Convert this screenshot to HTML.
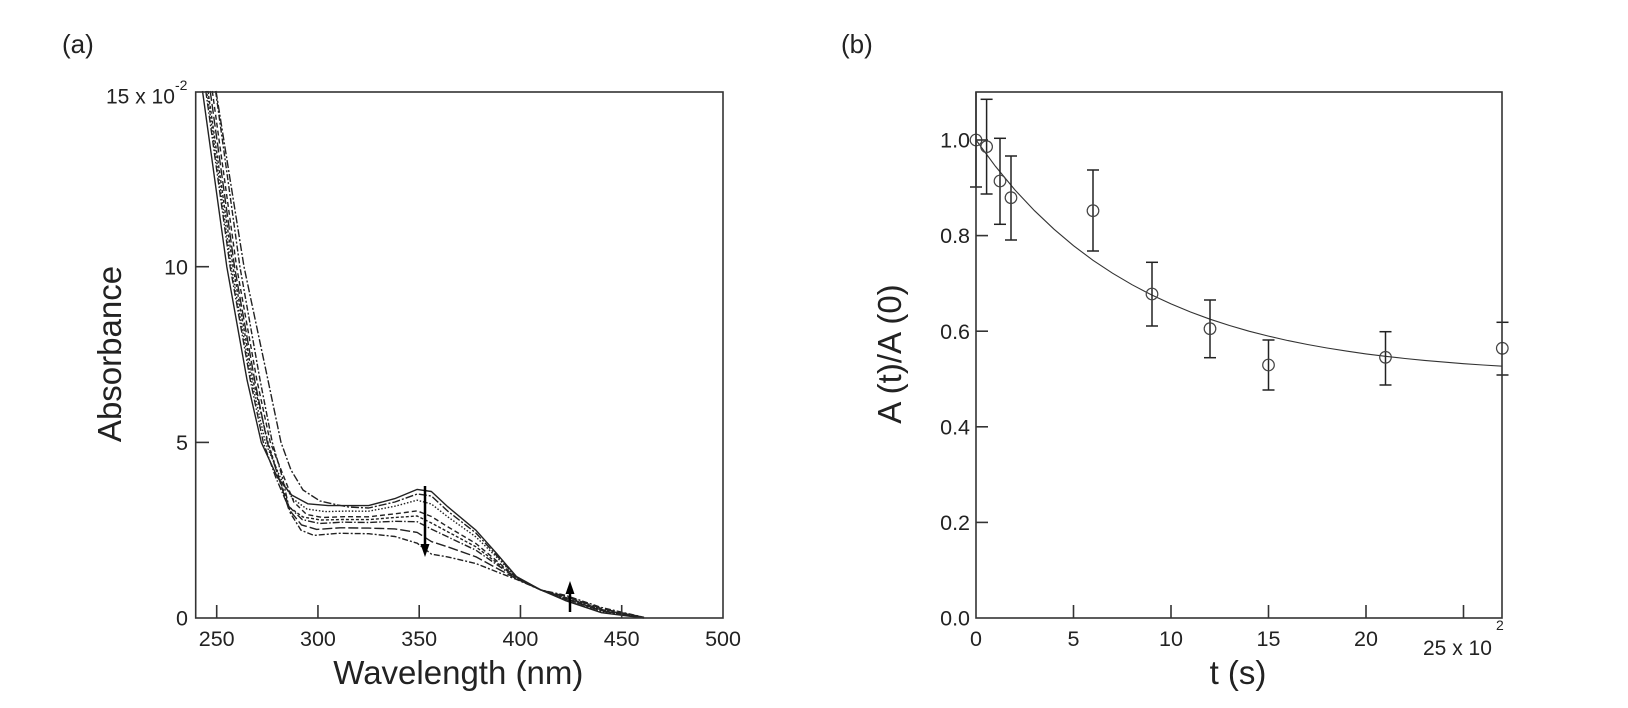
<!DOCTYPE html>
<html>
<head>
<meta charset="utf-8">
<style>
  html, body { margin: 0; padding: 0; background: #fff; }
  svg { display: block; }
  text { font-family: "Liberation Sans", Arial, sans-serif; fill: #222; }
</style>
</head>
<body>
<svg width="1628" height="708" viewBox="0 0 1628 708" xmlns="http://www.w3.org/2000/svg">
  <rect width="1628" height="708" fill="#fff"/>

  <!-- ================= Panel (a) ================= -->
  <text x="62" y="53" font-size="26">(a)</text>

  <!-- curves -->
  <g fill="none" stroke="#222" stroke-width="1.4" stroke-linejoin="round">
    <polyline points="202.5,91 226.8,266.7 247.1,380.2 261.3,442.4 277.5,477.5 291.6,495 307.8,503.8 328.1,505.6 348.3,505.6 368.6,505.6 394.9,498.6 417.2,489.4 431.4,491.5 447.6,506.6 475.9,530.2 496.2,553 516.4,576.5 540.7,589.9 565,600.4 601.5,612.7 644,618"/>
    <polyline stroke-dasharray="1.5 1.8" points="206.9,91 231.2,266.7 251.5,380.2 265.3,442.4 280.3,477.5 292.4,498.5 307,509.1 325.3,511.6 346.3,511.1 368.6,511.2 394.9,506.2 417.2,500.2 431.4,504 447.6,516.7 475.9,536.9 496.2,556.7 516.4,577.1 540.7,589.9 565,599.4 601.5,611.7 644,617.9"/>
    <polyline stroke-dasharray="5 3" points="212.3,91 236.6,266.7 256.9,380.2 270.3,442.4 284.1,477.5 293.8,502 306.5,514.4 322.4,517.5 344.3,516.7 368.6,516.8 394.9,513.8 417.2,510.9 431.4,516.5 447.6,526.7 475.9,543.5 496.2,560.4 516.4,577.7 540.7,589.9 565,598.3 601.5,610.6 644,617.7"/>
    <polyline stroke-dasharray="7 2 1.5 2" points="205.8,91 230.1,266.7 250.3,380.2 263.3,442.4 275.8,477.5 287.9,505.6 302.3,519.6 319.6,523.5 342.2,522.2 368.6,522.5 394.9,521.3 417.2,521.7 431.4,529.1 447.6,536.8 475.9,550.2 496.2,564.2 516.4,578.2 540.7,589.9 565,597.3 601.5,609.6 644,617.6"/>
    <polyline stroke-dasharray="10 3" points="210.2,91 234.5,266.7 254.7,380.2 267.3,442.4 278.6,477.5 288.7,509.1 301.5,524.9 316.7,529.4 340.2,527.8 368.6,528.1 394.9,528.9 417.2,532.4 431.4,541.6 447.6,546.8 475.9,556.8 496.2,567.9 516.4,578.8 540.7,589.9 565,596.2 601.5,608.5 644,617.4"/>
    <polyline stroke-dasharray="6 2 2 2" points="215.6,91 239.9,266.7 260.1,380.2 272.3,442.4 282.4,477.5 290.1,512.6 301,530.2 313.9,535.4 338.2,533.3 368.6,533.7 394.9,536.5 417.2,543.2 431.4,554.1 447.6,556.9 475.9,563.5 496.2,571.6 516.4,579.4 540.7,589.9 565,595.2 601.5,607.5 644,617.3"/>
    <polyline stroke-dasharray="8 2 2 2" points="216,91 244,266.7 268,380.2 281,442.4 291,470 303,490 320,501 338,505 348.3,507 368.6,508 394.9,502 417.2,494 431.4,496 447.6,511 475.9,533 496.2,555 516.4,577 540.7,589.9 565,599 601.5,611 644,617.8"/>
    <polyline stroke-dasharray="3 2" points="208,91 233,266.7 253,380.2 268,442.4 279,477.5 289,507 303,517 321,520 343,519.5 368.6,519.6 394.9,517.5 417.2,516 431.4,523 447.6,531.7 475.9,546.8 496.2,562.3 516.4,578 540.7,589.9 565,597.8 601.5,610 644,617.6"/>
  </g>

  <!-- arrows -->
  <g stroke="#000" stroke-width="2.5" fill="#000">
    <line x1="425" y1="486" x2="425" y2="546"/>
    <polygon points="420.5,544 429.5,544 425,557" stroke="none"/>
    <line x1="570" y1="612" x2="570" y2="592"/>
    <polygon points="565.5,594 574.5,594 570,581" stroke="none"/>
  </g>

  <!-- frame -->
  <rect x="195.7" y="92" width="527.3" height="526" fill="none" stroke="#333" stroke-width="1.6"/>
  <!-- ticks -->
  <g stroke="#333" stroke-width="1.6">
    <line x1="195.7" y1="442.4" x2="209" y2="442.4"/>
    <line x1="195.7" y1="266.7" x2="209" y2="266.7"/>
    <line x1="216.7" y1="618" x2="216.7" y2="605"/>
    <line x1="317.95" y1="618" x2="317.95" y2="605"/>
    <line x1="419.2" y1="618" x2="419.2" y2="605"/>
    <line x1="520.45" y1="618" x2="520.45" y2="605"/>
    <line x1="621.7" y1="618" x2="621.7" y2="605"/>
  </g>
  <!-- tick labels -->
  <g font-size="21.5">
    <text x="188" y="625.6" text-anchor="end">0</text>
    <text x="188" y="450" text-anchor="end">5</text>
    <text x="188" y="274.3" text-anchor="end">10</text>
    <text x="106" y="103.5" font-size="21">15 x 10</text>
    <text x="175" y="90" font-size="14">-2</text>
    <text x="216.7" y="646" text-anchor="middle">250</text>
    <text x="317.95" y="646" text-anchor="middle">300</text>
    <text x="419.2" y="646" text-anchor="middle">350</text>
    <text x="520.45" y="646" text-anchor="middle">400</text>
    <text x="621.7" y="646" text-anchor="middle">450</text>
    <text x="723" y="646" text-anchor="middle">500</text>
  </g>
  <text transform="translate(121,354) rotate(-90)" font-size="33" text-anchor="middle">Absorbance</text>
  <text x="458.3" y="684" font-size="33" text-anchor="middle">Wavelength (nm)</text>

  <!-- ================= Panel (b) ================= -->
  <text x="841" y="53" font-size="26">(b)</text>

  <!-- fit curve -->
  <polyline fill="none" stroke="#333" stroke-width="1.1" points="976,140 995.5,166.4 1015,190 1034.5,210.7 1054,229.2 1073.5,245.7 1093,260.3 1112.5,273.2 1132,284.7 1151.5,294.9 1171,303.9 1190.5,312 1210,319.2 1229.5,325.5 1249,331.2 1268.5,336.1 1288,340.6 1307.5,344.5 1327,348 1346.5,351.1 1366,353.9 1385.5,356.3 1405,358.5 1424.5,360.4 1444,362.1 1463.5,363.7 1483,365 1502.5,366.2"/>

  <!-- error bars -->
  <g stroke="#222" stroke-width="1.5" fill="none">
    <line x1="976" y1="92" x2="976" y2="187"/><line x1="970" y1="187" x2="982" y2="187"/>
    <line x1="986.6" y1="99.3" x2="986.6" y2="194"/><line x1="980.6" y1="99.3" x2="992.6" y2="99.3"/><line x1="980.6" y1="194" x2="992.6" y2="194"/>
    <line x1="1000" y1="138.3" x2="1000" y2="224.3"/><line x1="994" y1="138.3" x2="1006" y2="138.3"/><line x1="994" y1="224.3" x2="1006" y2="224.3"/>
    <line x1="1011" y1="156" x2="1011" y2="240"/><line x1="1005" y1="156" x2="1017" y2="156"/><line x1="1005" y1="240" x2="1017" y2="240"/>
    <line x1="1093" y1="170" x2="1093" y2="251"/><line x1="1087" y1="170" x2="1099" y2="170"/><line x1="1087" y1="251" x2="1099" y2="251"/>
    <line x1="1152" y1="262.3" x2="1152" y2="326"/><line x1="1146" y1="262.3" x2="1158" y2="262.3"/><line x1="1146" y1="326" x2="1158" y2="326"/>
    <line x1="1210" y1="300" x2="1210" y2="357.7"/><line x1="1204" y1="300" x2="1216" y2="300"/><line x1="1204" y1="357.7" x2="1216" y2="357.7"/>
    <line x1="1268.5" y1="340" x2="1268.5" y2="390"/><line x1="1262.5" y1="340" x2="1274.5" y2="340"/><line x1="1262.5" y1="390" x2="1274.5" y2="390"/>
    <line x1="1385.5" y1="331.7" x2="1385.5" y2="385"/><line x1="1379.5" y1="331.7" x2="1391.5" y2="331.7"/><line x1="1379.5" y1="385" x2="1391.5" y2="385"/>
    <line x1="1496.5" y1="322.3" x2="1508.5" y2="322.3"/><line x1="1496.5" y1="375" x2="1508.5" y2="375"/>
  </g>

  <!-- markers -->
  <g stroke="#444" stroke-width="1.2" fill="none">
    <circle cx="976" cy="140" r="5.8"/>
    <circle cx="986.6" cy="146.7" r="5.8"/>
    <circle cx="1000" cy="181" r="5.8"/>
    <circle cx="1011" cy="197.7" r="5.8"/>
    <circle cx="1093" cy="210.7" r="5.8"/>
    <circle cx="1152" cy="294" r="5.8"/>
    <circle cx="1210" cy="328.7" r="5.8"/>
    <circle cx="1268.5" cy="365" r="5.8"/>
    <circle cx="1385.5" cy="357.3" r="5.8"/>
    <circle cx="1502.3" cy="348.3" r="5.8"/>
  </g>

  <!-- frame -->
  <rect x="976" y="92" width="526" height="526" fill="none" stroke="#333" stroke-width="1.6"/>
  <g stroke="#333" stroke-width="1.6">
    <line x1="976" y1="522.4" x2="988" y2="522.4"/>
    <line x1="976" y1="426.8" x2="988" y2="426.8"/>
    <line x1="976" y1="331.2" x2="988" y2="331.2"/>
    <line x1="976" y1="235.6" x2="988" y2="235.6"/>
    <line x1="976" y1="140" x2="988" y2="140"/>
    <line x1="1073.5" y1="618" x2="1073.5" y2="605"/>
    <line x1="1171" y1="618" x2="1171" y2="605"/>
    <line x1="1268.5" y1="618" x2="1268.5" y2="605"/>
    <line x1="1366" y1="618" x2="1366" y2="605"/>
    <line x1="1463.5" y1="618" x2="1463.5" y2="605"/>
  </g>
  <g font-size="21.5">
    <text x="970" y="625.6" text-anchor="end">0.0</text>
    <text x="970" y="530" text-anchor="end">0.2</text>
    <text x="970" y="434.4" text-anchor="end">0.4</text>
    <text x="970" y="338.8" text-anchor="end">0.6</text>
    <text x="970" y="243.2" text-anchor="end">0.8</text>
    <text x="970" y="147.6" text-anchor="end">1.0</text>
    <text x="976" y="646" text-anchor="middle">0</text>
    <text x="1073.5" y="646" text-anchor="middle">5</text>
    <text x="1171" y="646" text-anchor="middle">10</text>
    <text x="1268.5" y="646" text-anchor="middle">15</text>
    <text x="1366" y="646" text-anchor="middle">20</text>
    <text x="1423" y="655" font-size="21">25 x 10</text>
    <text x="1496" y="630" font-size="14">2</text>
  </g>
  <text transform="translate(901,354) rotate(-90)" font-size="33" text-anchor="middle">A (t)/A (0)</text>
  <text x="1238" y="684" font-size="33" text-anchor="middle">t (s)</text>
</svg>
</body>
</html>
